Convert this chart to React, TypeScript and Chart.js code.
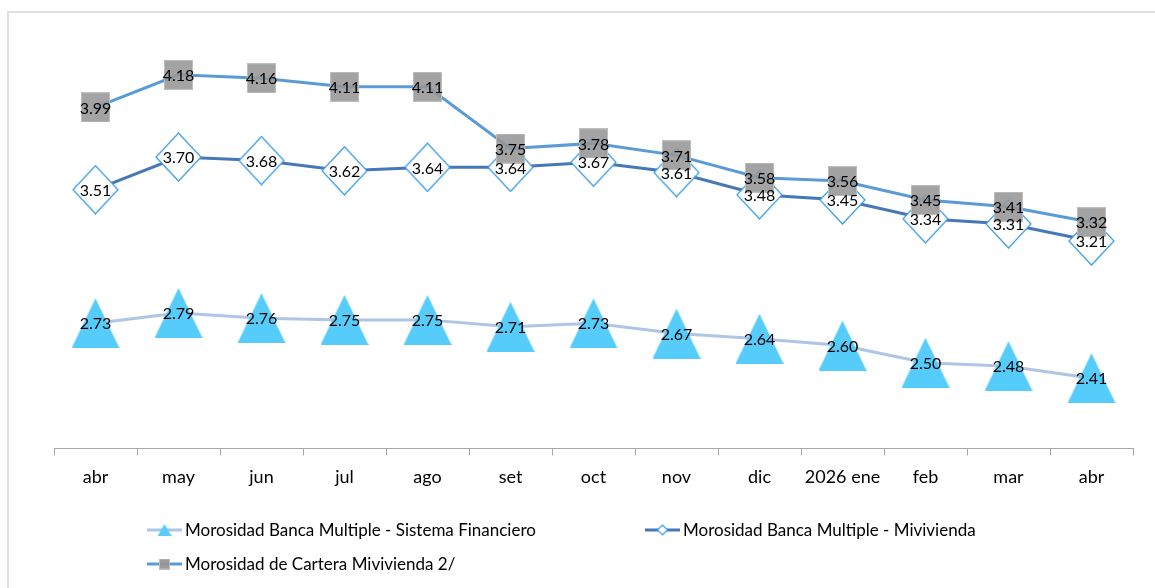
import React, { useEffect, useRef } from "react";
import { Chart, registerables } from "chart.js";

Chart.register(...registerables);

const categories = ["abr", "may", "jun", "jul", "ago", "set", "oct", "nov", "dic", "2026 ene", "feb", "mar", "abr"];
const sistemaFinanciero = [2.73, 2.79, 2.76, 2.75, 2.75, 2.71, 2.73, 2.67, 2.64, 2.6, 2.5, 2.48, 2.41];
const bancaMivivienda = [3.51, 3.7, 3.68, 3.62, 3.64, 3.64, 3.67, 3.61, 3.48, 3.45, 3.34, 3.31, 3.21];
const carteraMivivienda = [3.99, 4.18, 4.16, 4.11, 4.11, 3.75, 3.78, 3.71, 3.58, 3.56, 3.45, 3.41, 3.32];
const seriesNames = [
  "Morosidad Banca Multiple - Sistema Financiero",
  "Morosidad Banca Multiple - Mivivienda",
  "Morosidad de Cartera Mivivienda 2/",
];

const FONT = "Lato, 'Open Sans', sans-serif";

function makeTriangle(w: number, h: number, fill: string) {
  const c = document.createElement("canvas");
  c.width = w;
  c.height = h;
  const ctx = c.getContext("2d")!;
  ctx.fillStyle = fill;
  ctx.beginPath();
  ctx.moveTo(w / 2, 0);
  ctx.lineTo(w, h);
  ctx.lineTo(0, h);
  ctx.closePath();
  ctx.fill();
  return c;
}

function makeDiamond(w: number, h: number, fill: string, stroke: string) {
  const c = document.createElement("canvas");
  c.width = w;
  c.height = h;
  const ctx = c.getContext("2d")!;
  ctx.fillStyle = fill;
  ctx.strokeStyle = stroke;
  ctx.lineWidth = 1.2;
  ctx.beginPath();
  ctx.moveTo(w / 2, 1);
  ctx.lineTo(w - 1, h / 2);
  ctx.lineTo(w / 2, h - 1);
  ctx.lineTo(1, h / 2);
  ctx.closePath();
  ctx.fill();
  ctx.stroke();
  return c;
}

function makeSquare(w: number, h: number, fill: string, stroke: string) {
  const c = document.createElement("canvas");
  c.width = w;
  c.height = h;
  const ctx = c.getContext("2d")!;
  ctx.fillStyle = fill;
  ctx.fillRect(0, 0, w, h);
  ctx.strokeStyle = stroke;
  ctx.lineWidth = 1;
  ctx.strokeRect(0.5, 0.5, w - 1, h - 1);
  return c;
}

export default function App() {
  const ref = useRef<HTMLCanvasElement>(null);

  useEffect(() => {
    const triBig = makeTriangle(48, 50, "#55CCFA");
    const diaBig = makeDiamond(47, 50, "#FFFFFF", "#3A9BE8");
    const sqBig = makeSquare(29, 30, "rgba(150,150,150,0.88)", "#BDBDBD");
    const triSmall = makeTriangle(14, 12, "#55CCFA");
    const diaSmall = makeDiamond(12, 12, "#FFFFFF", "#3A9BE8");
    const sqSmall = makeSquare(11, 11, "rgba(150,150,150,0.95)", "#BDBDBD");
    const legendIcons = [triSmall, diaSmall, sqSmall];

    const labelPlugin = {
      id: "valueLabels",
      afterDatasetsDraw(chart: any) {
        const ctx = chart.ctx;
        ctx.save();
        ctx.font = `16px ${FONT}`;
        ctx.fillStyle = "#000000";
        ctx.textAlign = "center";
        ctx.textBaseline = "middle";
        [0, 1, 2].forEach((di) => {
          const meta = chart.getDatasetMeta(di);
          const data = chart.data.datasets[di].data as number[];
          meta.data.forEach((pt: any, i: number) => {
            ctx.fillText(data[i].toFixed(2), pt.x, pt.y + 1);
          });
        });
        ctx.restore();
      },
    };

    const legendPlugin = {
      id: "customLegend",
      afterDraw(chart: any) {
        const ctx = chart.ctx;
        const spots = [
          { x: 147, y: 530 },
          { x: 645, y: 530 },
          { x: 147, y: 564 },
        ];
        ctx.save();
        ctx.font = `17px ${FONT}`;
        ctx.textBaseline = "middle";
        ctx.textAlign = "left";
        chart.data.datasets.forEach((ds: any, i: number) => {
          const s = spots[i];
          ctx.strokeStyle = ds.borderColor;
          ctx.lineWidth = 3;
          ctx.beginPath();
          ctx.moveTo(s.x, s.y);
          ctx.lineTo(s.x + 35, s.y);
          ctx.stroke();
          const ic = legendIcons[i];
          ctx.drawImage(ic, s.x + 17.5 - ic.width / 2, s.y - ic.height / 2);
          ctx.fillStyle = "#000000";
          ctx.fillText(ds.label, s.x + 38, s.y + 1);
        });
        ctx.restore();
      },
    };

    const chart = new Chart(ref.current!, {
      type: "line",
      data: {
        labels: categories,
        datasets: [
          {
            label: seriesNames[0],
            data: sistemaFinanciero,
            borderColor: "#AEC5E6",
            borderWidth: 3,
            pointStyle: triBig as any,
            pointRadius: 2,
            pointHoverRadius: 2,
            order: 3,
            clip: false as any,
          },
          {
            label: seriesNames[1],
            data: bancaMivivienda,
            borderColor: "#4678B8",
            borderWidth: 3,
            pointStyle: diaBig as any,
            pointRadius: 2,
            pointHoverRadius: 2,
            order: 2,
            clip: false as any,
          },
          {
            label: seriesNames[2],
            data: carteraMivivienda,
            borderColor: "#5B9BD5",
            borderWidth: 3,
            pointStyle: sqBig as any,
            pointRadius: 2,
            pointHoverRadius: 2,
            order: 1,
            clip: false as any,
          },
        ],
      },
      options: {
        responsive: false,
        animation: false,
        devicePixelRatio: 1,
        layout: { padding: { left: 54, right: 22, top: 20, bottom: 89 } },
        plugins: {
          legend: { display: false },
          tooltip: { enabled: false },
          title: { display: false },
        },
        scales: {
          x: {
            offset: true,
            grid: {
              offset: true,
              drawOnChartArea: false,
              drawTicks: true,
              tickLength: 7,
              color: "#A6A6A6",
            },
            border: { display: true, color: "#A6A6A6", width: 1 },
            ticks: {
              color: "#000000",
              font: { family: FONT, size: 18 },
              padding: 11,
              maxRotation: 0,
              autoSkip: false,
            },
          },
          y: {
            display: false,
            min: 2.0,
            max: 4.5,
          },
        },
      },
      plugins: [labelPlugin, legendPlugin],
    });
    return () => chart.destroy();
  }, []);

  return (
    <div style={{ position: "absolute", left: 0, top: 0, width: 1155, height: 588, background: "#FFFFFF", overflow: "hidden" }}>
      <div
        style={{
          position: "absolute",
          left: 7,
          top: 11,
          width: 1160,
          height: 600,
          border: "2px solid #E0E0E0",
          boxSizing: "border-box",
        }}
      />
      <canvas ref={ref} width={1155} height={588} style={{ position: "absolute", left: 0, top: 0 }} />
    </div>
  );
}
